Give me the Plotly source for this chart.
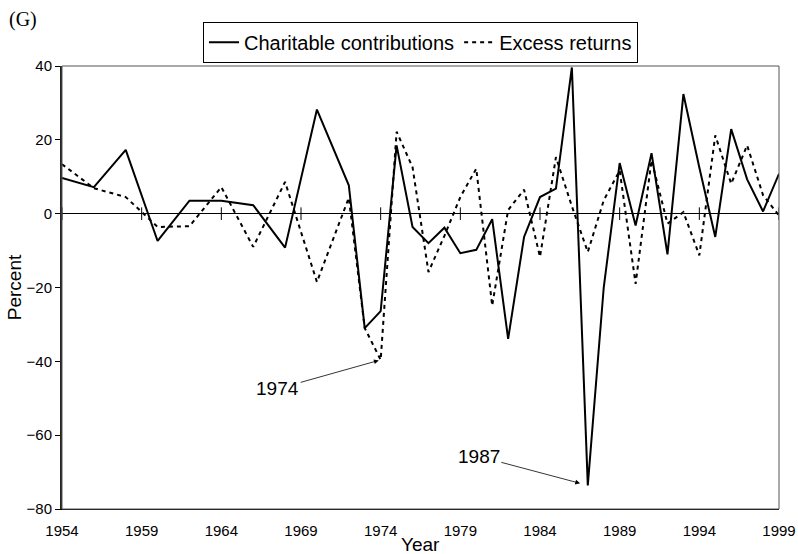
import plotly.graph_objects as go

years = [1954, 1956, 1958, 1960, 1962, 1964, 1966, 1968, 1970, 1972,
         1973, 1974, 1975, 1976, 1977, 1978, 1979, 1980, 1981, 1982,
         1983, 1984, 1985, 1986, 1987, 1988, 1989, 1990, 1991, 1992,
         1993, 1994, 1995, 1996, 1997, 1998, 1999]
charitable = [9.7, 7.2, 17.3, -7.4, 3.5, 3.5, 2.3, -9.2, 28.2, 7.7,
              -31.0, -26.4, 18.5, -3.6, -8.0, -3.8, -10.7, -9.8, -1.5, -33.9,
              -6.3, 4.5, 6.8, 39.6, -73.6, -20.0, 13.7, -3.2, 16.4, -11.0,
              32.4, 12.5, -6.3, 22.9, 9.3, 0.6, 10.8]
excess = [13.4, 6.9, 4.5, -3.6, -3.4, 7.2, -9.0, 8.6, -18.5, 4.3,
          -31.0, -39.6, 22.2, 12.6, -15.8, -6.0, 4.5, 12.2, -24.9, 1.0,
          6.5, -11.7, 15.3, 2.0, -10.4, 3.6, 11.7, -19.0, 14.5, -2.7,
          0.4, -11.3, 21.2, 8.1, 18.5, 5.0, -0.5]
x_ticks = [1954, 1959, 1964, 1969, 1974, 1979, 1984, 1989, 1994, 1999]
y_ticks = [-80, -60, -40, -20, 0, 20, 40]

FONT = "Liberation Sans, Arial, sans-serif"

fig = go.Figure()
fig.add_trace(go.Scatter(x=years, y=charitable, mode="lines",
                         name="Charitable contributions",
                         line=dict(color="black", width=2)))
fig.add_trace(go.Scatter(x=years, y=excess, mode="lines",
                         name="Excess returns",
                         line=dict(color="black", width=2, dash="4px,4px")))
# tick marks crossing the zero line
fig.add_trace(go.Scatter(x=x_ticks, y=[0] * len(x_ticks), mode="markers",
                         showlegend=False, hoverinfo="skip",
                         marker=dict(symbol="line-ns", size=9,
                                     line=dict(color="black", width=1))))

fig.add_annotation(x=1974, y=-39.6, text="1974", showarrow=True,
                   ax=-103, ay=29, arrowhead=2, arrowsize=1.2, arrowwidth=0.8,
                   arrowcolor="black",
                   standoff=2, font=dict(size=19, family=FONT, color="black"))
fig.add_annotation(x=1987, y=-73.6, text="1987", showarrow=True,
                   ax=-109, ay=-29, arrowhead=2, arrowsize=1.2, arrowwidth=0.8,
                   arrowcolor="black",
                   standoff=8, font=dict(size=19, family=FONT, color="black"))
fig.add_annotation(xref="paper", yref="paper", x=-0.054, y=1.104,
                   xanchor="center", yanchor="middle",
                   text="(G)", showarrow=False,
                   font=dict(size=20, family="Liberation Serif, Times New Roman, serif",
                             color="black"))
fig.add_annotation(xref="paper", yref="paper", x=0.5, y=-0.081,
                   xanchor="center", yanchor="middle",
                   text="Year", showarrow=False,
                   font=dict(size=19, family=FONT, color="black"))

fig.add_shape(type="rect", xref="paper", yref="paper", x0=0, y0=0, x1=1, y1=1,
              line=dict(color="#555555", width=1), layer="above")

fig.update_layout(
    width=798, height=554,
    margin=dict(l=62, r=19, t=66, b=45),
    paper_bgcolor="white", plot_bgcolor="white",
    font=dict(family=FONT, color="black", size=15),
    showlegend=True,
    legend=dict(orientation="h", x=0.5, xanchor="center",
                y=1.1, yanchor="top",
                bordercolor="black", borderwidth=1, bgcolor="white",
                font=dict(size=20, family=FONT), itemwidth=30,
                tracegroupgap=0),
    xaxis=dict(range=[1954, 1999], tickvals=x_ticks,
               ticktext=[str(v) for v in x_ticks],
               showgrid=False, zeroline=False, automargin=False,
               showline=True, linecolor="black", linewidth=1,
               ticks="outside", ticklen=8, tickcolor="rgba(0,0,0,0)",
               tickfont=dict(size=15)),
    yaxis=dict(range=[-80, 40], tickvals=y_ticks, automargin=False,
               showgrid=False, zeroline=True, zerolinecolor="black",
               zerolinewidth=1,
               showline=True, linecolor="#222222", linewidth=2,
               ticks="outside", ticklen=5, tickcolor="black",
               tickfont=dict(size=15),
               title=dict(text="Percent", font=dict(size=19), standoff=0)),
)

fig.write_html("out.html", config={"displayModeBar": False},
               post_script="document.body.style.margin='0';")
